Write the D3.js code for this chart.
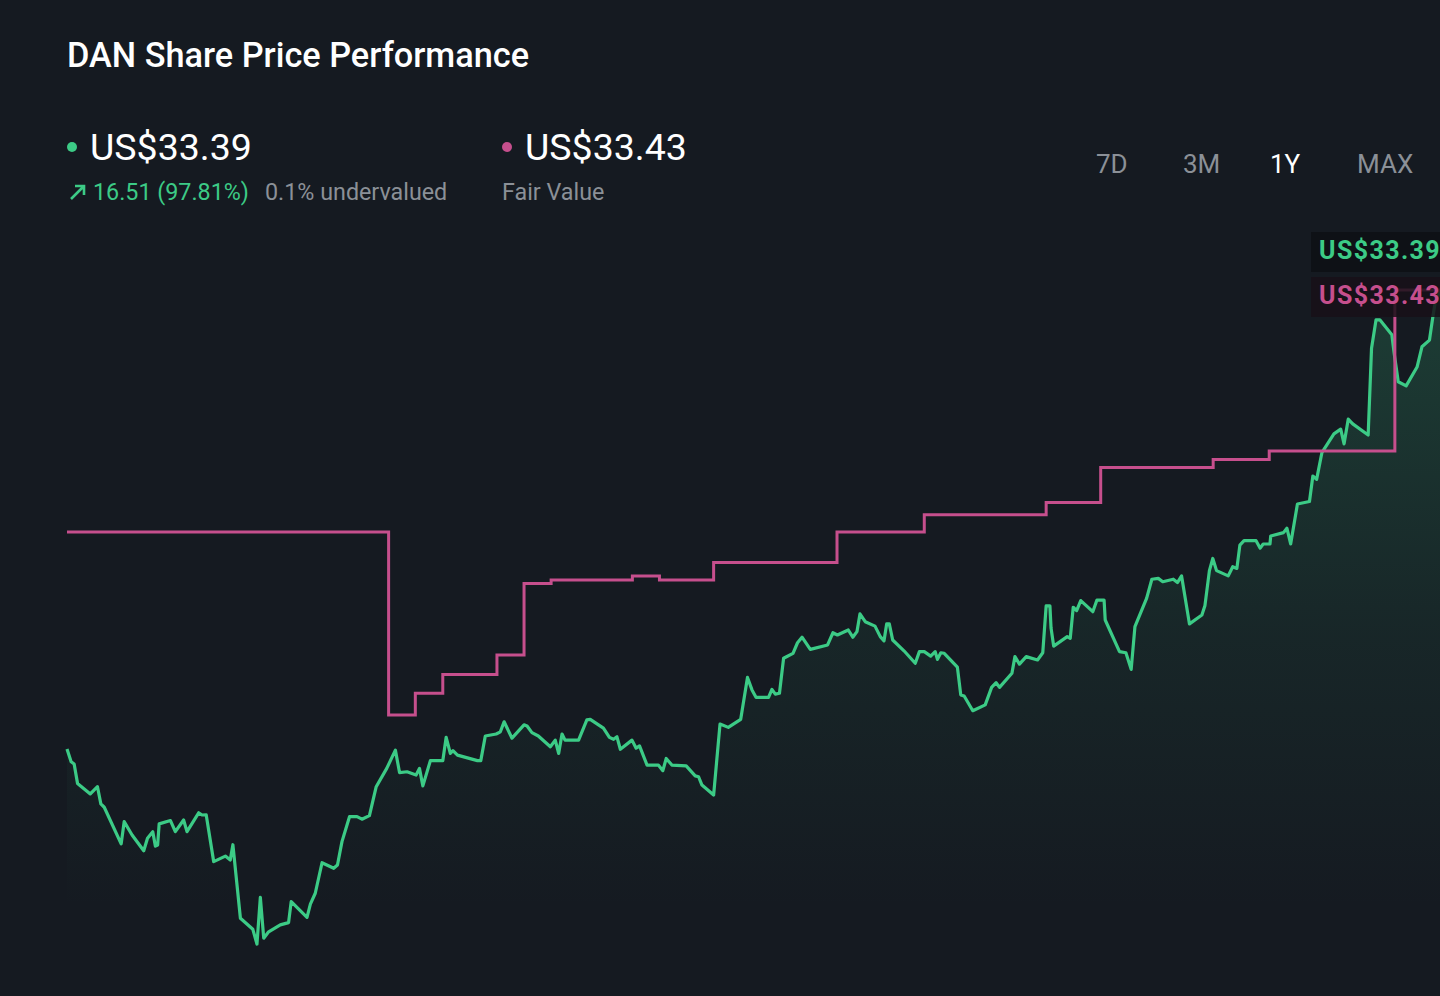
<!DOCTYPE html>
<meta charset="utf-8">
<style>

body {
  margin: 0;
  background: #151a21;
  font-family: Roboto, "Noto Sans", sans-serif;
}

.title {
  fill: #fff;
  font-size: 34.3px;
  font-weight: 500;
}

.big {
  fill: #fff;
  font-size: 37.5px;
}

.sub {
  font-size: 23.3px;
}

.range {
  font-size: 26px;
  fill: #8b9097;
}

.price-line {
  fill: none;
  stroke: #3ccb86;
  stroke-width: 3.2px;
  stroke-linejoin: round;
}

.fv-line {
  fill: none;
  stroke: #c64f8d;
  stroke-width: 3px;
}

.tag {
  font-size: 25px;
  font-weight: 700;
  letter-spacing: 1.4px;
}

</style>
<body>
<script src="https://cdn.jsdelivr.net/npm/d3@7"></script>
<script>

// days since start of the 1Y window
var priceDays = [0, 1.1, 1.9, 2.8, 6.2, 8.1, 9.0, 9.9, 14.4, 15.2, 17.3, 20.4, 21.4, 22.8, 23.5, 24.1, 24.5, 27.5, 28.8, 31.0,
  31.9, 35.0, 35.9, 37.0, 39.0, 42.1, 43.4, 44.1, 46.1, 49.4, 50.5, 51.4, 52.3, 53.6, 56.7, 58.9, 59.6, 63.8, 64.7, 66.0,
  67.8, 70.9, 71.9, 73.1, 75.1, 77.1, 78.4, 80.4, 82.2, 85.0, 87.3, 88.4, 90.4, 92.8, 93.7, 94.6, 96.6, 99.9, 100.8, 101.9,
  102.6, 103.8, 109.1, 110.0, 111.2, 114.1, 115.2, 116.2, 118.3, 121.5, 122.3, 123.6, 125.3, 128.5, 129.8, 130.7, 131.6, 132.4, 136.0, 138.2,
  139.1, 142.6, 144.2, 145.3, 146.2, 147.1, 150.2, 151.3, 152.2, 154.2, 157.2, 158.4, 159.3, 160.8, 164.6, 167.0, 167.9, 168.8, 171.9, 173.6,
  175.8, 179.1, 180.9, 182.1, 183.2, 186.5, 187.4, 188.3, 189.4, 190.5, 193.0, 194.2, 195.4, 197.6, 202.2, 203.6, 204.8, 207.7, 208.9, 210.0,
  210.8, 212.2, 214.8, 216.2, 217.2, 217.9, 218.6, 219.5, 222.5, 225.5, 226.6, 227.9, 229.6, 230.8, 231.4, 232.3, 233.2, 236.7, 237.6, 238.5,
  240.8, 244.1, 245.8, 247.0, 247.9, 251.2, 252.0, 253.2, 255.0, 258.0, 259.4, 260.3, 261.3, 261.6, 262.3, 265.9, 266.7, 267.5, 268.4, 269.5,
  272.7, 273.8, 275.7, 276.0, 279.8, 281.5, 282.9, 283.9, 287.0, 288.4, 290.1, 291.3, 294.1, 295.2, 296.3, 298.4, 301.7, 302.5, 303.7, 304.6,
  305.6, 308.7, 309.9, 311.0, 311.8, 312.9, 316.1, 317.2, 318.0, 319.8, 320.0, 323.4, 324.3, 325.3, 327.1, 330.3, 331.2, 332.2, 333.6, 336.8,
  338.6, 339.5, 340.6, 341.8, 345.9, 346.8, 348.0, 349.0, 352.2, 352.8, 353.9, 356.0, 358.9, 360.2, 362.2, 363.1, 363.7, 365];

var priceValues = [16.88, 16.42, 16.34, 15.64, 15.26, 15.52, 14.90, 14.78, 13.46, 14.26, 13.78, 13.21, 13.66, 13.90, 13.38, 13.42, 14.18, 14.30, 13.90, 14.32,
  13.90, 14.58, 14.50, 14.51, 12.82, 13.02, 12.88, 13.43, 10.78, 10.38, 9.85, 11.53, 10.06, 10.29, 10.54, 10.62, 11.38, 10.81, 11.29, 11.68,
  12.78, 12.58, 12.70, 13.54, 14.44, 14.44, 14.35, 14.48, 15.52, 16.18, 16.84, 16.03, 16.06, 15.94, 16.18, 15.55, 16.46, 16.46, 17.30, 16.72,
  16.82, 16.66, 16.46, 16.46, 17.35, 17.42, 17.50, 17.86, 17.27, 17.75, 17.71, 17.47, 17.35, 16.96, 17.20, 16.72, 17.42, 17.20, 17.20, 17.93,
  17.95, 17.63, 17.30, 17.23, 17.32, 16.87, 17.20, 16.91, 16.99, 16.30, 16.30, 16.10, 16.54, 16.30, 16.27, 15.91, 15.88, 15.58, 15.22, 17.78,
  17.66, 17.95, 19.46, 19.01, 18.74, 18.74, 19.03, 18.86, 18.89, 20.15, 20.33, 20.71, 20.91, 20.47, 20.63, 21.07, 20.99, 21.17, 20.91, 21.11,
  21.75, 21.47, 21.31, 20.93, 20.78, 21.39, 21.39, 20.81, 20.42, 19.97, 20.39, 20.39, 20.23, 20.39, 20.11, 20.35, 20.33, 19.83, 18.83, 18.79,
  18.26, 18.47, 19.10, 19.27, 19.10, 19.61, 20.21, 19.94, 20.21, 20.09, 20.35, 22.04, 22.04, 21.24, 20.59, 20.93, 20.87, 21.99, 21.87, 22.23,
  21.83, 22.25, 22.25, 21.53, 20.39, 20.35, 19.75, 21.29, 22.31, 23.00, 23.03, 22.91, 23.00, 22.88, 23.12, 21.39, 21.71, 22.04, 23.31, 23.75,
  23.31, 23.12, 23.45, 23.39, 24.23, 24.39, 24.39, 24.12, 24.27, 24.27, 24.56, 24.68, 24.84, 24.27, 25.71, 25.80, 26.72, 26.60, 27.56, 28.24,
  28.41, 27.88, 28.77, 28.60, 28.20, 31.33, 32.35, 32.35, 31.81, 31.16, 30.12, 29.97, 30.65, 31.38, 31.62, 32.46, 32.96, 33.39];

// fair value estimate, each value holds until the next day listed
var fairDays = [0, 85.5, 92.6, 99.9, 114.3, 121.5, 128.7, 150.3, 157.5, 171.9, 204.7, 227.9, 260.3, 274.8, 304.7, 319.6, 353.0, 365];
var fairValues = [24.70, 18.11, 18.89, 19.57, 20.27, 22.85, 22.97, 23.12, 22.97, 23.60, 24.70, 25.32, 25.77, 27.03, 27.32, 27.62, 33.43, 33.43];

var ranges = ["7D", "3M", "1Y", "MAX"];
var activeRange = "1Y";

var lastPrice = 33.39,
    fairValue = 33.43,
    priceChange = 16.51,
    pctChange = 97.81,
    undervalued = 0.1;

var width = 1440,
    height = 996;

var green = "#3ccb86",
    pink = "#c64f8d",
    grey = "#8b9097";

var x = d3.scaleLinear()
    .domain([0, 365])
    .range([67, 1440]);

var y = d3.scaleLinear()
    .domain([priceValues[0], lastPrice])
    .range([749, 291]);

var price = priceDays.map(function(d, i) { return {day: d, value: priceValues[i]}; });
var fair = fairDays.map(function(d, i) { return {day: d, value: fairValues[i]}; });

var svg = d3.select("body").append("svg")
    .attr("width", width)
    .attr("height", height)
    .style("display", "block");

var defs = svg.append("defs");

// fill fades out towards the bottom of the plot
var grad = defs.append("linearGradient")
    .attr("id", "areaFill")
    .attr("gradientUnits", "userSpaceOnUse")
    .attr("x1", 0).attr("y1", y(lastPrice))
    .attr("x2", 0).attr("y2", 910);
grad.append("stop").attr("offset", "0%").attr("stop-color", green).attr("stop-opacity", 0.2);
grad.append("stop").attr("offset", "55%").attr("stop-color", green).attr("stop-opacity", 0.07);
grad.append("stop").attr("offset", "100%").attr("stop-color", green).attr("stop-opacity", 0);

// header
svg.append("text")
    .attr("class", "title")
    .attr("x", 67)
    .attr("y", 67)
    .text("DAN Share Price Performance");

svg.append("circle")
    .attr("cx", 72).attr("cy", 147).attr("r", 5)
    .attr("fill", green);

svg.append("text")
    .attr("class", "big")
    .attr("x", 90)
    .attr("y", 160)
    .text("US$" + lastPrice.toFixed(2));

svg.append("path")
    .attr("d", "M71,199L84,186M75,186H84V195")
    .attr("fill", "none")
    .attr("stroke", green)
    .attr("stroke-width", 2.6);

svg.append("text")
    .attr("class", "sub")
    .attr("x", 93)
    .attr("y", 200)
    .attr("fill", green)
    .text(priceChange.toFixed(2) + " (" + pctChange.toFixed(2) + "%)");

svg.append("text")
    .attr("class", "sub")
    .attr("x", 265)
    .attr("y", 200)
    .attr("fill", grey)
    .text(undervalued + "% undervalued");

svg.append("circle")
    .attr("cx", 507).attr("cy", 147).attr("r", 5)
    .attr("fill", pink);

svg.append("text")
    .attr("class", "big")
    .attr("x", 525)
    .attr("y", 160)
    .text("US$" + fairValue.toFixed(2));

svg.append("text")
    .attr("class", "sub")
    .attr("x", 502)
    .attr("y", 200)
    .attr("fill", grey)
    .text("Fair Value");

var rangeX = d3.scalePoint()
    .domain(ranges)
    .range([1096, 1357]);

svg.selectAll(".range")
    .data(ranges)
  .enter().append("text")
    .attr("class", "range")
    .attr("x", function(d) { return rangeX(d); })
    .attr("y", 173)
    .style("fill", function(d) { return d == activeRange ? "#fff" : grey; })
    .text(function(d) { return d; });

// chart
var plot = svg.append("g");

var area = d3.area()
    .x(function(d) { return x(d.day); })
    .y0(height)
    .y1(function(d) { return y(d.value); });

var line = d3.line()
    .x(function(d) { return x(d.day); })
    .y(function(d) { return y(d.value); });

var stepLine = d3.line()
    .curve(d3.curveStepAfter)
    .x(function(d) { return x(d.day); })
    .y(function(d) { return y(d.value); });

plot.append("path")
    .datum(price)
    .attr("d", area)
    .attr("fill", "url(#areaFill)");

plot.append("path")
    .datum(price)
    .attr("class", "price-line")
    .attr("d", line);

plot.append("path")
    .datum(fair)
    .attr("class", "fv-line")
    .attr("d", stepLine);

// end-of-line value tags
var tags = [
  {value: lastPrice, color: green, bg: "rgba(13,16,20,0.85)", top: 232},
  {value: fairValue, color: pink, bg: "rgba(24,17,24,0.85)", top: 277}
];

var tag = svg.selectAll(".tagbox")
    .data(tags)
  .enter().append("g")
    .attr("class", "tagbox");

tag.append("rect")
    .attr("x", 1311)
    .attr("y", function(d) { return d.top; })
    .attr("width", 135)
    .attr("height", 40)
    .attr("fill", function(d) { return d.bg; });

tag.append("text")
    .attr("class", "tag")
    .attr("x", 1319)
    .attr("y", function(d) { return d.top + 27; })
    .attr("fill", function(d) { return d.color; })
    .text(function(d) { return "US$" + d.value.toFixed(2); });

</script>
